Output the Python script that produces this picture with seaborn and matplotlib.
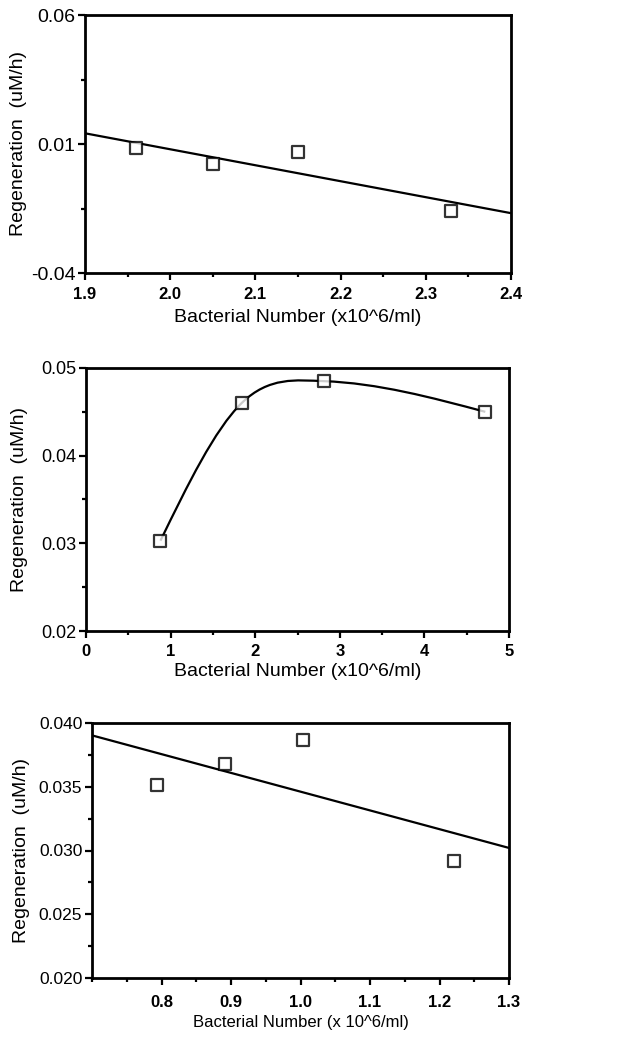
import numpy as np
import seaborn as sns
import matplotlib.pyplot as plt
from matplotlib.path import Path
from matplotlib.patches import PathPatch
from matplotlib.ticker import FixedLocator, FormatStrFormatter

sns.set_theme(style="white")
plt.rcParams['font.family'] = ['Liberation Sans', 'DejaVu Sans']

# Panel A: linear fit
bact_a = [1.96, 2.05, 2.15, 2.33]
regen_a = [0.0084, 0.0022, 0.0070, -0.0161]

# Panel B: smooth curve through the points
bact_b = [0.88, 1.84, 2.81, 4.72]
regen_b = [0.0303, 0.0460, 0.0485, 0.0450]

# Panel C: linear fit
bact_c = [0.793, 0.892, 1.003, 1.221]
regen_c = [0.0351, 0.0368, 0.0387, 0.0292]

ylabel = "Regeneration  (uM/h)"
xlabel_ab = "Bacterial Number (x10^6/ml)"
xlabel_c = "Bacterial Number (x 10^6/ml)"

fig = plt.figure(figsize=(6.29, 10.39), dpi=100)
W, H = 629, 1039


def add_axes(left, top, right, bottom):
    return fig.add_axes([left / W, 1 - bottom / H, (right - left) / W, (bottom - top) / H])


ax1 = add_axes(85, 15, 511, 273)
ax2 = add_axes(86, 368, 509, 631)
ax3 = add_axes(92, 723, 509, 978)

line_kw = dict(color="black", lw=1.6)
scatter_kw = dict(s=70, facecolors="white", edgecolors="black", linewidths=1.6, zorder=3)


def style(ax, xlim, ylim, xmaj, xmin, ymaj, ymin, xfmt, yfmt, xlabel,
          ytick_size, xtick_size, ylab_size, xlab_size, xpad, xlabpad, ylab_x):
    ax.set_xlim(*xlim)
    ax.set_ylim(*ylim)
    ax.xaxis.set_major_locator(FixedLocator(xmaj))
    ax.xaxis.set_minor_locator(FixedLocator(xmin))
    ax.yaxis.set_major_locator(FixedLocator(ymaj))
    ax.yaxis.set_minor_locator(FixedLocator(ymin))
    ax.xaxis.set_major_formatter(FormatStrFormatter(xfmt))
    ax.yaxis.set_major_formatter(FormatStrFormatter(yfmt))
    for s in ax.spines.values():
        s.set_color("black")
        s.set_linewidth(2.0)
    ax.tick_params(axis="both", which="major", direction="out", length=5, width=1.6,
                   color="black", left=True, bottom=True, top=False, right=False)
    ax.tick_params(axis="both", which="minor", direction="out", length=3, width=1.6,
                   color="black", left=True, bottom=True, top=False, right=False)
    ax.tick_params(axis="y", which="major", labelsize=ytick_size, pad=2, labelcolor="black")
    ax.tick_params(axis="x", which="major", labelsize=xtick_size, pad=xpad, labelcolor="black")
    for t in ax.get_xticklabels():
        t.set_fontweight("bold")
    ax.set_ylabel(ylabel, fontsize=ylab_size, color="black")
    ax.set_xlabel(xlabel, fontsize=xlab_size, labelpad=xlabpad, color="black")
    # the rotated y label is anchored at its right-hand edge; pin that edge to a pixel column
    pos = ax.get_position()
    ax.yaxis.set_label_coords((ylab_x / W - pos.x0) / pos.width, 0.5)


# Panel A
style(ax1, (1.9, 2.4), (-0.04, 0.06),
      [1.9, 2.0, 2.1, 2.2, 2.3, 2.4], [1.95, 2.05, 2.15, 2.25, 2.35],
      [-0.04, 0.01, 0.06], [-0.015, 0.035],
      "%.1f", "%.2f", xlabel_ab, 14, 12, 14, 14, 5, 5, 27)
sns.regplot(x=bact_a, y=regen_a, ax=ax1, ci=None, truncate=False,
            scatter_kws=scatter_kw, line_kws=line_kw, marker="s")
ax1.set_xlim(1.9, 2.4)
ax1.set_ylim(-0.04, 0.06)

# Panel B
style(ax2, (0, 5), (0.02, 0.05),
      [0, 1, 2, 3, 4, 5], [0.5, 1.5, 2.5, 3.5, 4.5],
      [0.02, 0.03, 0.04, 0.05], [0.025, 0.035, 0.045],
      "%d", "%.2f", xlabel_ab, 13, 12, 14, 14, 4, 3, 28)
sns.regplot(x=bact_b, y=regen_b, ax=ax2, fit_reg=False,
            scatter_kws=scatter_kw, marker="s")

# cardinal spline through the points (Hermite segments drawn as Bezier curves)
xb = np.asarray(bact_b, float)
yb = np.asarray(regen_b, float)
h = np.diff(xb)
sec = np.diff(yb) / h
n = len(xb)
d = np.zeros(n)
for i in range(1, n - 1):
    d[i] = (yb[i + 1] - yb[i - 1]) / (xb[i + 1] - xb[i - 1])
d[0] = (3 * sec[0] - d[1]) / 2
d[-1] = (3 * sec[-1] - d[-2]) / 2
verts = [(xb[0], yb[0])]
codes = [Path.MOVETO]
for i in range(n - 1):
    verts += [(xb[i] + h[i] / 3, yb[i] + d[i] * h[i] / 3),
              (xb[i + 1] - h[i] / 3, yb[i + 1] - d[i + 1] * h[i] / 3),
              (xb[i + 1], yb[i + 1])]
    codes += [Path.CURVE4] * 3
ax2.add_patch(PathPatch(Path(verts, codes), facecolor="none", edgecolor="black",
                        lw=1.6, zorder=2))
ax2.set_xlim(0, 5)
ax2.set_ylim(0.02, 0.05)

# Panel C
style(ax3, (0.7, 1.3), (0.020, 0.040),
      [0.8, 0.9, 1.0, 1.1, 1.2, 1.3], [0.7, 0.75, 0.85, 0.95, 1.05, 1.15, 1.25],
      [0.020, 0.025, 0.030, 0.035, 0.040], [0.0225, 0.0275, 0.0325, 0.0375],
      "%.1f", "%.3f", xlabel_c, 12.5, 12, 14, 12, 7, 4, 30)
sns.regplot(x=bact_c, y=regen_c, ax=ax3, ci=None, truncate=False,
            scatter_kws=scatter_kw, line_kws=line_kw, marker="s")
ax3.set_xlim(0.7, 1.3)
ax3.set_ylim(0.020, 0.040)

for ax in (ax1, ax2, ax3):
    ax.set_xlabel(ax.get_xlabel())

fig.savefig("out.png", dpi=100)
